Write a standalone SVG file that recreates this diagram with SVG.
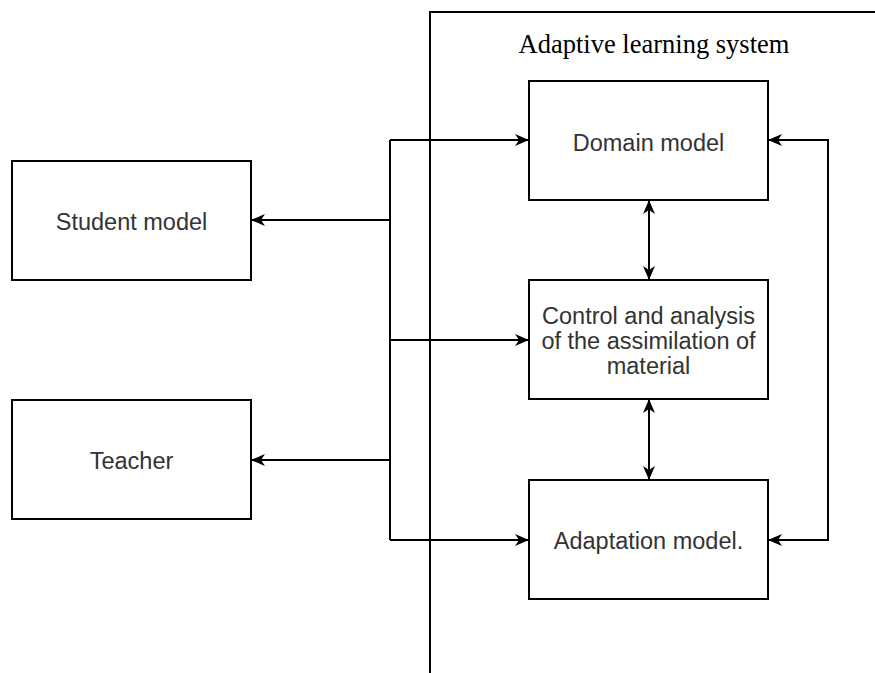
<svg xmlns="http://www.w3.org/2000/svg" width="875" height="673" viewBox="0 0 875 673">
<style>
.box{fill:#fff;stroke:#000;stroke-width:2}
.lbl{font-family:"Liberation Sans",Arial,sans-serif;font-size:23.5px;fill:#333;text-anchor:middle}
.ln{fill:none;stroke:#000;stroke-width:2}
</style>
<defs>
<marker id="ah" viewBox="0 0 14 12" refX="13" refY="6" markerWidth="14" markerHeight="12" markerUnits="userSpaceOnUse" orient="auto-start-reverse">
<path d="M0,0 L14,6 L0,12 L4,6 z" fill="#000"/>
</marker>
</defs>
<rect width="875" height="673" fill="#fff"/>
<g id="frame">
<path d="M430,673 V12 H875" fill="none" stroke="#000" stroke-width="2"/>
<text x="654" y="53" font-family="Liberation Serif,'Times New Roman',serif" font-size="26.5" fill="#000" text-anchor="middle">Adaptive learning system</text>
</g>
<g id="connectors">
<path class="ln" d="M390,140 V540"/>
<path class="ln" d="M390,140 H528" marker-end="url(#ah)"/>
<path class="ln" d="M390,220 H252" marker-end="url(#ah)"/>
<path class="ln" d="M390,340 H528" marker-end="url(#ah)"/>
<path class="ln" d="M390,460 H252" marker-end="url(#ah)"/>
<path class="ln" d="M390,540 H528" marker-end="url(#ah)"/>
<path class="ln" d="M769,140 H828 V540 H769" marker-start="url(#ah)" marker-end="url(#ah)"/>
<path class="ln" d="M649,201 V279" marker-start="url(#ah)" marker-end="url(#ah)"/>
<path class="ln" d="M649,400 V479" marker-start="url(#ah)" marker-end="url(#ah)"/>
</g>
<g id="student"><rect class="box" x="12" y="161" width="239" height="119"/><text class="lbl" x="131.5" y="230">Student model</text></g>
<g id="teacher"><rect class="box" x="12" y="400" width="239" height="119"/><text class="lbl" x="131.5" y="469">Teacher</text></g>
<g id="domain"><rect class="box" x="529" y="81" width="239" height="119"/><text class="lbl" x="648.5" y="151">Domain model</text></g>
<g id="control"><rect class="box" x="529" y="280" width="239" height="119"/><text class="lbl" x="648.5" y="324">Control and analysis</text><text class="lbl" x="648.5" y="349">of the assimilation of</text><text class="lbl" x="648.5" y="374">material</text></g>
<g id="adaptation"><rect class="box" x="529" y="480" width="239" height="119"/><text class="lbl" x="648.5" y="549">Adaptation model.</text></g>
</svg>
